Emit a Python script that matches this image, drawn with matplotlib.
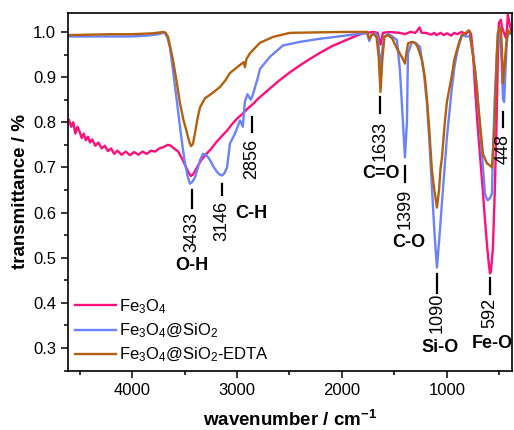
import numpy as np
import matplotlib
matplotlib.use('Agg')
import matplotlib.pyplot as plt

plt.rcParams['font.family'] = ['Liberation Sans', 'DejaVu Sans']
plt.rcParams['mathtext.fontset'] = 'custom'
plt.rcParams['mathtext.rm'] = 'Liberation Sans'
plt.rcParams['mathtext.bf'] = 'Liberation Sans:bold'
plt.rcParams['mathtext.it'] = 'Liberation Sans:italic'

# Fe3O4 (pink)
wn_fe = [4600, 4580, 4560, 4540, 4520, 4500, 4480, 4460, 4440, 4420, 4400, 4380, 4350, 4320,
         4290, 4260, 4230, 4200, 4170, 4140, 4100, 4060, 4020, 3980, 3940, 3900, 3860, 3820,
         3780, 3740, 3700, 3660, 3630, 3600, 3560, 3520, 3490, 3460, 3440, 3420, 3400, 3370,
         3340, 3300, 3250, 3200, 3150, 3100, 3050, 3000, 2950, 2900, 2850, 2800, 2700, 2600,
         2500, 2400, 2300, 2200, 2100, 2000, 1900, 1800, 1700, 1660, 1633, 1610, 1550, 1450,
         1400, 1350, 1300, 1260, 1240, 1200, 1150, 1120, 1100, 1060, 1030, 1000, 960, 930,
         900, 860, 820, 790, 770, 750, 733, 710, 686, 660, 638, 615, 600, 590, 580, 570,
         562, 545, 530, 520, 514, 505, 486, 476, 457, 438, 429, 419, 410, 390, 381]
t_fe = [0.805, 0.790, 0.800, 0.775, 0.790, 0.780, 0.765, 0.775, 0.760, 0.768, 0.755, 0.762, 0.748, 0.755,
        0.742, 0.748, 0.736, 0.742, 0.730, 0.737, 0.728, 0.735, 0.727, 0.734, 0.728, 0.735, 0.730, 0.737,
        0.735, 0.742, 0.745, 0.750, 0.748, 0.742, 0.735, 0.718, 0.703, 0.688, 0.681, 0.684, 0.692, 0.705,
        0.716, 0.728, 0.740, 0.755, 0.768, 0.780, 0.795, 0.808, 0.818, 0.830, 0.840, 0.852, 0.872, 0.892,
        0.910, 0.926, 0.941, 0.955, 0.968, 0.978, 0.988, 0.997, 1.000, 0.998, 0.972, 0.998, 1.000, 0.998,
        0.995, 1.000, 0.998, 1.010, 0.998, 0.998, 0.994, 0.998, 0.993, 0.998, 0.993, 0.997, 0.992, 0.998,
        0.995, 1.000, 0.995, 1.003, 0.995, 0.950, 0.880, 0.800, 0.730, 0.655, 0.585, 0.520, 0.485, 0.465, 0.470, 0.500,
        0.520, 0.640, 0.770, 0.880, 0.955, 1.020, 1.027, 1.011, 0.998, 0.987, 1.004, 1.038, 1.027, 1.004, 1.000]

# Fe3O4@SiO2 (blue)
wn_si = [4600, 4400, 4200, 4000, 3850, 3750, 3700, 3686, 3660, 3638, 3615, 3590, 3565, 3543, 3520,
         3495, 3470, 3448, 3425, 3400, 3375, 3352, 3324, 3290, 3257, 3220, 3190, 3165, 3143, 3120,
         3095, 3067, 3019, 2971, 2945, 2925, 2900, 2870, 2855, 2840, 2800, 2781, 2686, 2562, 2400,
         2238, 2000, 1800, 1760, 1740, 1720, 1680, 1660, 1645, 1633, 1620, 1600, 1560, 1520, 1476,
         1448, 1419, 1400, 1381, 1371, 1333, 1300, 1257, 1220, 1190, 1165, 1143, 1120, 1095, 1070,
         1048, 1025, 1000, 975, 952, 930, 905, 880, 857, 820, 781, 750, 730, 714, 690, 667, 650,
         638, 620, 610, 590, 571, 562, 545, 524, 514, 495, 480, 465, 455, 445, 430, 415, 400, 385]
t_si = [0.990, 0.990, 0.990, 0.990, 0.992, 0.995, 0.998, 0.998, 0.985, 0.965, 0.925, 0.878, 0.832, 0.790, 0.748,
        0.709, 0.680, 0.664, 0.668, 0.678, 0.697, 0.716, 0.730, 0.727, 0.716, 0.700, 0.690, 0.684, 0.682, 0.687,
        0.700, 0.753, 0.775, 0.804, 0.790, 0.845, 0.862, 0.850, 0.857, 0.868, 0.900, 0.918, 0.945, 0.970, 0.978,
        0.984, 0.991, 0.997, 0.997, 0.980, 0.994, 0.997, 0.990, 0.950, 0.900, 0.950, 0.988, 0.996, 0.990, 0.982,
        0.916, 0.800, 0.722, 0.800, 0.953, 0.978, 0.976, 0.967, 0.910, 0.842, 0.750, 0.656, 0.560, 0.478, 0.550,
        0.620, 0.690, 0.767, 0.825, 0.878, 0.920, 0.953, 0.975, 0.993, 0.990, 0.990, 0.950, 0.910, 0.878, 0.800, 0.730, 0.680,
        0.642, 0.630, 0.627, 0.632, 0.642, 0.730, 0.850, 0.953, 0.998, 0.990, 0.940, 0.850, 0.845, 0.900, 0.975, 1.000, 0.995, 1.000]

# Fe3O4@SiO2-EDTA (brown)
wn_ed = [4600, 4400, 4200, 4000, 3800, 3700, 3680, 3657, 3635, 3610, 3575, 3543, 3510, 3476, 3455,
         3438, 3420, 3400, 3375, 3352, 3305, 3238, 3162, 3110, 3067, 2971, 2935, 2924, 2910, 2876,
         2781, 2657, 2495, 2000, 1760, 1740, 1720, 1700, 1670, 1650, 1633, 1615, 1595, 1560, 1520,
         1480, 1450, 1420, 1400, 1385, 1370, 1333, 1300, 1280, 1240, 1210, 1190, 1170, 1143, 1120,
         1095, 1075, 1060, 1048, 1020, 1000, 980, 952, 930, 905, 880, 857, 820, 795, 781, 760,
         733, 710, 686, 657, 619, 595, 571, 543, 524, 514, 500, 486, 476, 467, 450, 429, 419, 410, 400, 385]
t_ed = [0.993, 0.994, 0.995, 0.995, 0.997, 1.000, 0.998, 0.989, 0.965, 0.938, 0.890, 0.842, 0.805, 0.776, 0.757,
        0.747, 0.752, 0.776, 0.810, 0.833, 0.853, 0.864, 0.878, 0.893, 0.909, 0.927, 0.933, 0.922, 0.940, 0.953,
        0.976, 0.989, 0.998, 1.000, 1.000, 0.985, 0.992, 0.996, 0.988, 0.945, 0.867, 0.940, 0.990, 0.993, 0.985,
        0.965, 0.953, 0.940, 0.930, 0.955, 0.975, 0.978, 0.975, 0.967, 0.940, 0.900, 0.850, 0.790, 0.693, 0.650,
        0.611, 0.650, 0.700, 0.720, 0.800, 0.845, 0.870, 0.905, 0.938, 0.960, 0.980, 0.993, 0.998, 1.003, 1.000, 0.960,
        0.916, 0.860, 0.800, 0.730, 0.709, 0.705, 0.700, 0.800, 0.953, 0.998, 1.008, 1.010, 0.960, 0.887, 0.930, 0.990, 1.004, 1.000, 0.998, 1.000]

names = ['Fe$_3$O$_4$', 'Fe$_3$O$_4$@SiO$_2$', 'Fe$_3$O$_4$@SiO$_2$-EDTA']
colors = ['#FF0F7B', '#6B83FA', '#B4600E']

# band annotations
peak_wn = [3433, 3146, 2856, 1633, 1399, 1090, 592, 462]
peak_txt = ['3433', '3146', '2856', '1633', '1399', '1090', '592', '448']
group_txt = ['O-H', 'C-H', 'C=O', 'C-O', 'Si-O', 'Fe-O']
group_wn = [3433, 2860, 1629, 1360, 1067, 571]

# layout of the annotation marks (y in data units)
bar_top = [0.649, 0.664, 0.811, 0.856, 0.704, 0.464, 0.456, 0.822]
bar_bot = [0.611, 0.638, 0.778, 0.820, 0.667, 0.422, 0.420, 0.789]
txt_y = [0.556, 0.582, 0.718, 0.758, 0.609, 0.378, 0.378, 0.740]
group_y = [0.482, 0.598, 0.687, 0.533, 0.300, 0.309]

fig = plt.figure(figsize=(5.14, 4.30), dpi=100)
ax = fig.add_axes([0.1323, 0.1372, 0.8638, 0.8326])

for wn, t, name, c in zip([wn_fe, wn_si, wn_ed], [t_fe, t_si, t_ed], names, colors):
    ax.plot(wn, t, color=c, lw=1.7, label=name)

for w, a, b, ty, s in zip(peak_wn, bar_top, bar_bot, txt_y, peak_txt):
    ax.plot([w, w], [b, a], color='black', lw=1.6)
    ax.text(w, ty, s, rotation=90, ha='center', va='center', fontsize=13)
for w, gy, s in zip(group_wn, group_y, group_txt):
    ax.text(w, gy, s, ha='center', va='center', fontsize=13, fontweight='bold')

ax.set_xlim(4610, 380)
ax.set_ylim(0.249, 1.042)
ax.set_xticks([4000, 3000, 2000, 1000])
ax.set_xticks([4500, 3500, 2500, 1500, 500], minor=True)
ax.set_yticks([0.3, 0.4, 0.5, 0.6, 0.7, 0.8, 0.9, 1.0])
ax.set_yticks(np.arange(0.25, 1.04, 0.05), minor=True)
ax.tick_params(which='major', direction='out', length=5, width=1.1, labelsize=12)
ax.tick_params(which='minor', direction='out', length=3, width=1.1)
for sp in ax.spines.values():
    sp.set_linewidth(1.2)

ax.set_xlabel(r'wavenumber / cm$^{\mathbf{-1}}$', fontsize=13.5, fontweight='bold')
ax.set_ylabel('transmittance / %', fontsize=13.5, fontweight='bold')
ax.xaxis.set_label_coords(0.5, -0.137)
ax.xaxis.label.set_va('center')
ax.yaxis.set_label_coords(-0.108, 0.5)
ax.yaxis.label.set_va('center')

ax.legend(loc='lower left', frameon=False, fontsize=12, handlelength=2.45,
          handletextpad=0.2, labelspacing=0.35, borderaxespad=0.1, borderpad=0.3)

fig.savefig('out.png', dpi=100)
